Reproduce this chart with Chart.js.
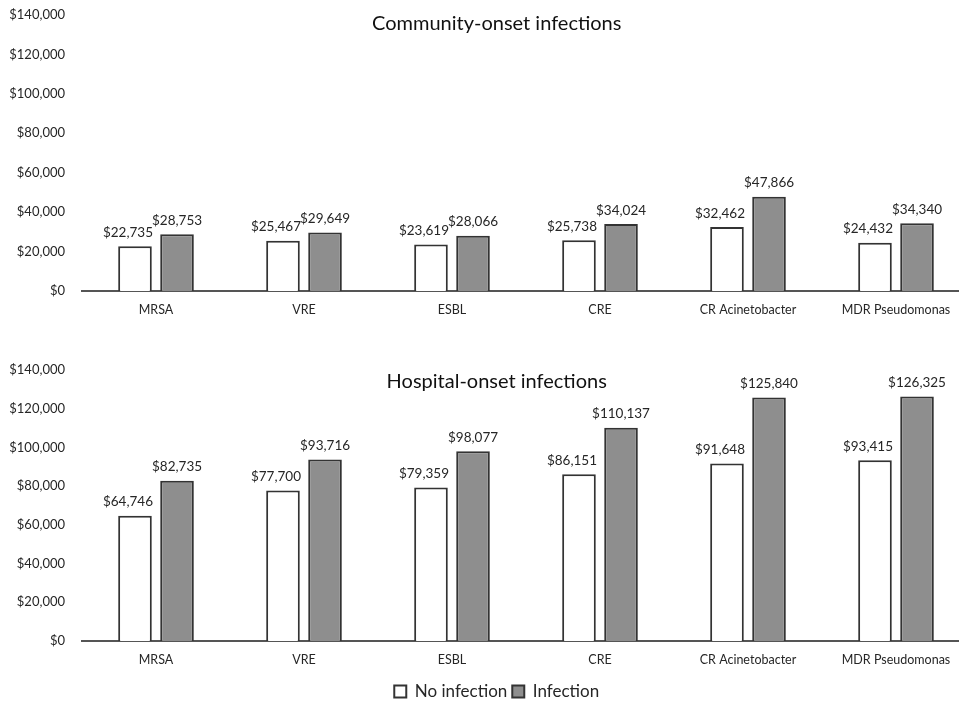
<!DOCTYPE html>
<html>
<head>
<meta charset="utf-8">
<script src="https://cdn.jsdelivr.net/npm/chart.js@4.4.1/dist/chart.umd.min.js"></script>
<style>
  body { margin: 0; background: #fff; overflow: hidden; }
  .wrap { position: absolute; left: 0; width: 972px; }
  #top { top: 0; height: 332px; }
  #bottom { top: 345px; height: 365px; }
</style>
</head>
<body>
<div class="wrap" id="top"><canvas id="communityChart"></canvas></div>
<div class="wrap" id="bottom"><canvas id="hospitalChart"></canvas></div>
<script>
// Data
const categories = ['MRSA', 'VRE', 'ESBL', 'CRE', 'CR Acinetobacter', 'MDR Pseudomonas'];
const communityNoInfection = [22735, 25467, 23619, 25738, 32462, 24432];
const communityInfection = [28753, 29649, 28066, 34024, 47866, 34340];
const hospitalNoInfection = [64746, 77700, 79359, 86151, 91648, 93415];
const hospitalInfection = [82735, 93716, 98077, 110137, 125840, 126325];
const yMax = 140000;
const yStep = 20000;

const FONT = 'Lato, "Open Sans", sans-serif';
const TEXT = '#262626';
const CENTER_FRAC = 0.467; // titles and legend sit left of the plot centre (plot runs off the right edge)
const LABEL_SHIFT = [-7, 0]; // value labels nudged apart so they don't collide

function money(v) {
    return '$' + v.toLocaleString('en-US');
}

// Value labels above the bars
const barLabels = {
    id: 'barLabels',
    afterDatasetsDraw(chart) {
        const ctx = chart.ctx;
        ctx.save();
        ctx.font = '13.5px ' + FONT;
        ctx.fillStyle = TEXT;
        ctx.textAlign = 'center';
        ctx.textBaseline = 'bottom';
        chart.data.datasets.forEach((ds, i) => {
            chart.getDatasetMeta(i).data.forEach((bar, j) => {
                ctx.fillText(money(ds.data[j]), bar.x + LABEL_SHIFT[i], bar.y - 7);
            });
        });
        ctx.restore();
    }
};

// Panel title drawn inside the plot area
const panelTitle = {
    id: 'panelTitle',
    afterLayout(chart) {
        // move the legend so it centres under the plot like the titles
        const lg = chart.legend;
        if (!lg || !lg.options.display) return;
        const area = chart.chartArea;
        const shift = area.left + area.width * CENTER_FRAC - (lg.left + lg.right) / 2;
        lg.left += shift;
        lg.right += shift;
    },
    afterDraw(chart, args, opts) {
        const ctx = chart.ctx;
        const area = chart.chartArea;
        ctx.save();
        ctx.font = '20px ' + FONT;
        ctx.fillStyle = '#111';
        ctx.textAlign = 'center';
        ctx.textBaseline = 'middle';
        ctx.fillText(opts.text, area.left + area.width * CENTER_FRAC, area.top + opts.offset);
        ctx.restore();
    }
};

function makeChart(id, title, noInf, inf, showLegend, padTop, padBottom, titleOffset) {
    return new Chart(document.getElementById(id), {
        type: 'bar',
        data: {
            labels: categories,
            datasets: [
                {
                    label: 'No infection',
                    data: noInf,
                    backgroundColor: '#ffffff',
                    borderColor: '#333333',
                    borderWidth: 2,
                    categoryPercentage: 0.568,
                    barPercentage: 0.8,
                },
                {
                    label: 'Infection',
                    data: inf,
                    backgroundColor: '#8e8e8e',
                    borderColor: '#333333',
                    borderWidth: 2,
                    categoryPercentage: 0.568,
                    barPercentage: 0.8,
                },
            ],
        },
        options: {
            responsive: true,
            maintainAspectRatio: false,
            animation: false,
            layout: { padding: { top: padTop, right: 2, left: 0, bottom: padBottom } },
            plugins: {
                legend: {
                    display: showLegend,
                    position: 'bottom',
                    labels: {
                        color: TEXT,
                        font: { family: FONT, size: 17 },
                        boxWidth: 12,
                        boxHeight: 12,
                        padding: 5,
                    },
                },
                tooltip: { enabled: false },
                panelTitle: { text: title, offset: titleOffset },
            },
            scales: {
                x: {
                    grid: { display: false, drawTicks: false },
                    border: { color: '#555555', width: 2 },
                    ticks: { color: TEXT, font: { family: FONT, size: 12.5 }, padding: 11 },
                },
                y: {
                    min: 0,
                    max: yMax,
                    grid: { display: false, drawTicks: true, tickLength: 15 },
                    border: { display: false },
                    afterFit: (axis) => { axis.width = 82; },
                    ticks: {
                        stepSize: yStep,
                        color: TEXT,
                        font: { family: FONT, size: 13 },
                        padding: 2,
                        callback: (v) => money(v),
                    },
                },
            },
        },
        plugins: [barLabels, panelTitle],
    });
}

makeChart('communityChart', 'Community-onset infections', communityNoInfection, communityInfection,
    false, 15, 4, 9);
makeChart('hospitalChart', 'Hospital-onset infections', hospitalNoInfection, hospitalInfection,
    true, 25, 0, 12);
</script>
</body>
</html>
